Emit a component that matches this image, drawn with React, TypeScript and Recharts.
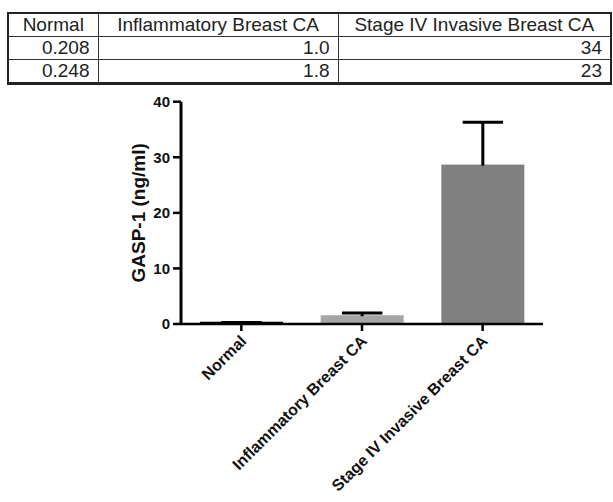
import { BarChart, Bar, XAxis, YAxis, Cell } from "recharts";

// table at the top
const tableHeaders = ["Normal", "Inflammatory Breast CA", "Stage IV Invasive Breast CA"];
const tableRow1 = ["0.208", "1.0", "34"];
const tableRow2 = ["0.248", "1.8", "23"];

// bar chart: mean with upper SD bar
const groups = ["Normal", "Inflammatory Breast CA", "Stage IV Invasive Breast CA"];
const means = [0.23, 1.4, 28.5];
const errors = [0.03, 0.57, 7.8];
const yTicks = [0, 10, 20, 30, 40];

const barColors = ["#000000", "#a6a6a6", "#808080"];
const FONT = '"Liberation Sans", Arial, sans-serif';

const data = groups.map((g, i) => ({ name: g, mean: means[i], err: errors[i] }));

const BarWithError = (props: any) => {
  const { x, y, width, height, fill, payload } = props;
  const perUnit = payload.mean ? height / payload.mean : 0;
  const top = y - payload.err * perUnit;
  const cx = x + width / 2;
  return (
    <g>
      <rect x={x} y={y} width={width} height={height} fill={fill} stroke={fill} strokeWidth={2} />
      <line x1={cx} x2={cx} y1={y} y2={top} stroke="#000" strokeWidth={3} />
      <line x1={cx - width / 4} x2={cx + width / 4} y1={top} y2={top} stroke="#000" strokeWidth={3} />
    </g>
  );
};

const AngledTick = (props: any) => {
  const { x, y, payload } = props;
  const px = x + 6;
  const py = y + 9;
  return (
    <text
      x={px}
      y={py}
      transform={`rotate(-45 ${px} ${py})`}
      textAnchor="end"
      fontSize={16}
      fontWeight="bold"
      fontFamily={FONT}
      fill="#111"
    >
      {payload.value}
    </text>
  );
};

const YLabel = (props: any) => {
  const { viewBox } = props;
  const cx = 145;
  const cy = viewBox.y + viewBox.height / 2;
  return (
    <text
      x={cx}
      y={cy}
      transform={`rotate(-90 ${cx} ${cy})`}
      textAnchor="middle"
      fontSize={19}
      fontWeight="bold"
      fontFamily={FONT}
      fill="#111"
    >
      GASP-1 (ng/ml)
    </text>
  );
};

const cellBase: any = {
  border: "1px solid #333",
  padding: "0 8px",
  height: 22,
  lineHeight: "22px",
  whiteSpace: "nowrap",
};

export default function App() {
  return (
    <div
      style={{
        position: "absolute",
        left: 0,
        top: 0,
        width: 613,
        height: 502,
        background: "#fff",
        fontFamily: FONT,
        overflow: "hidden",
      }}
    >
      <table
        style={{
          position: "absolute",
          left: 7,
          top: 12,
          width: 603,
          borderCollapse: "collapse",
          tableLayout: "fixed",
          border: "2px solid #222",
          borderBottom: "3px solid #222",
          fontSize: 19,
          color: "#222",
        }}
      >
        <colgroup>
          <col style={{ width: 90 }} />
          <col style={{ width: 240 }} />
          <col style={{ width: 273 }} />
        </colgroup>
        <tbody>
          <tr>
            {tableHeaders.map((h) => (
              <td key={h} style={{ ...cellBase, textAlign: "center", padding: 0 }}>
                {h}
              </td>
            ))}
          </tr>
          {[tableRow1, tableRow2].map((row, r) => (
            <tr key={r}>
              {row.map((v, c) => (
                <td key={c} style={{ ...cellBase, textAlign: "right" }}>
                  {v}
                </td>
              ))}
            </tr>
          ))}
        </tbody>
      </table>

      <div style={{ position: "absolute", left: 0, top: 90 }}>
        <BarChart
          width={613}
          height={412}
          data={data}
          margin={{ top: 11.7, right: 70, left: 0, bottom: 0 }}
          barSize={81}
        >
          <XAxis
            dataKey="name"
            height={178}
            interval={0}
            axisLine={{ stroke: "#000", strokeWidth: 2.5 }}
            tickLine={{ stroke: "#000", strokeWidth: 2.5 }}
            tickSize={7}
            tick={<AngledTick />}
          />
          <YAxis
            width={181}
            domain={[0, 40]}
            ticks={yTicks}
            interval={0}
            axisLine={{ stroke: "#000", strokeWidth: 3 }}
            tickLine={{ stroke: "#000", strokeWidth: 2.5 }}
            tickSize={8}
            tickMargin={3}
            tick={{ fontSize: 15, fontWeight: "bold", fill: "#111", fontFamily: FONT }}
            label={YLabel}
          />
          <Bar dataKey="mean" shape={BarWithError} isAnimationActive={false}>
            {data.map((d, i) => (
              <Cell key={d.name} fill={barColors[i]} />
            ))}
          </Bar>
        </BarChart>
      </div>
    </div>
  );
}
